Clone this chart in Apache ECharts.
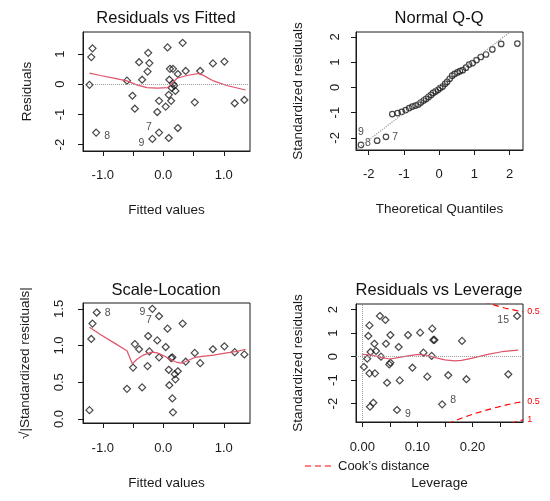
<!DOCTYPE html>
<html>
<head>
<meta charset="UTF-8">
<title>lm diagnostics</title>
<script src="https://cdn.jsdelivr.net/npm/echarts@6.0.0/dist/echarts.min.js"></script>
</head>
<body style="margin:0;background:#fff;">
<div id="main" style="width:550px;height:501px;"></div>
<script>
// ---- Residuals vs Fitted ----
var rvfX = [-1.22, -1.19, -1.17, -1.11, -0.60, -0.51, -0.47, -0.40, -0.35, -0.26, -0.25, -0.23, -0.18,
            -0.10, -0.07, -0.07, 0.04, 0.07, 0.09, 0.11, 0.16, 0.10, 0.16, 0.18, 0.20, 0.09, 0.13,
            0.14, 0.24, 0.24, 0.32, 0.37, 0.52, 0.61, 0.82, 1.01, 1.18, 1.34];
var rvfY = [-0.02, 0.90, 1.19, -1.60, 0.12, -0.38, -0.81, 0.73, 0.15, 0.42, 1.04, 0.70, -1.81,
            -0.92, -0.55, -1.60, -0.74, 1.22, -1.78, 0.51, 0.51, 0.15, 0.02, -0.05, -0.22, -0.35, -0.55,
            -0.12, 0.34, -1.45, 1.37, 0.44, -0.60, 0.44, 0.69, 0.75, -0.63, -0.52];
var rvfLabels = {3: '8', 12: '9', 15: '7'};
var rvfSmoothX = [-1.22, -1.04, -0.82, -0.60, -0.44, -0.27, -0.10, 0.07, 0.14, 0.23, 0.39, 0.60, 0.83, 1.05, 1.36];
var rvfSmoothY = [0.37, 0.29, 0.20, 0.11, -0.02, -0.11, -0.13, -0.11, 0.03, 0.20, 0.29, 0.36, 0.11, -0.04, -0.19];

// ---- Normal Q-Q ----
var qqX = [-2.22, -1.76, -1.51, -1.33, -1.18, -1.06, -0.95, -0.85, -0.76, -0.67, -0.59, -0.52, -0.44,
           -0.37, -0.30, -0.23, -0.17, -0.10, -0.03, 0.03, 0.10, 0.17, 0.23, 0.30, 0.37, 0.44, 0.52,
           0.59, 0.67, 0.76, 0.85, 0.95, 1.06, 1.18, 1.33, 1.51, 1.76, 2.22];
var qqY = [-2.28, -2.11, -1.96, -1.06, -1.02, -0.97, -0.90, -0.82, -0.76, -0.72, -0.68, -0.60, -0.52,
           -0.46, -0.38, -0.30, -0.22, -0.16, -0.10, -0.03, 0.03, 0.14, 0.22, 0.34, 0.46, 0.53, 0.59,
           0.64, 0.68, 0.78, 0.90, 0.96, 1.08, 1.20, 1.30, 1.50, 1.72, 1.73];
var qqLabels = {0: '9', 1: '8', 2: '7'};
var qqRef = [[-2.38, -2.49], [2.38, 2.58]];

// ---- Scale-Location ----
var slX = [-1.22, -1.19, -1.17, -1.10, -0.60, -0.50, -0.47, -0.40, -0.35, -0.26, -0.25, -0.23, -0.18,
           -0.10, -0.07, -0.07, 0.04, 0.07, 0.09, 0.10, 0.13, 0.15, 0.15, 0.16, 0.19, 0.20, 0.24,
           0.32, 0.37, 0.52, 0.61, 0.82, 1.01, 1.18, 1.34];
var slY = [0.12, 1.09, 1.30, 1.45, 0.41, 0.70, 1.02, 0.95, 0.43, 0.72, 1.13, 0.92, 1.50,
           1.07, 1.40, 0.84, 0.98, 1.23, 0.67, 0.46, 0.83, 0.84, 0.28, 0.09, 0.61, 0.54, 0.65,
           1.30, 0.78, 0.90, 0.76, 0.95, 0.99, 0.91, 0.88];
var slLabels = {3: '8', 12: '9', 14: '7'};
var slSmoothX = [-1.22, -1.04, -0.82, -0.60, -0.51, -0.44, -0.33, -0.19, -0.10, 0.01, 0.12, 0.23, 0.31,
                 0.39, 0.53, 0.61, 0.83, 1.05, 1.22, 1.36];
var slSmoothY = [1.25, 1.15, 1.04, 0.93, 0.75, 0.81, 0.87, 0.91, 0.90, 0.86, 0.81, 0.77, 0.76,
                 0.79, 0.84, 0.85, 0.87, 0.90, 0.92, 0.95];

// ---- Residuals vs Leverage ----
var levX = [0.281, 0.003, 0.009, 0.011, 0.013, 0.013, 0.015, 0.014, 0.020, 0.022, 0.023, 0.025, 0.032,
            0.034, 0.042, 0.043, 0.045, 0.049, 0.051, 0.051, 0.063, 0.066, 0.068, 0.083, 0.091, 0.105,
            0.111, 0.118, 0.126, 0.127, 0.129, 0.131, 0.145, 0.156, 0.181, 0.189, 0.265];
var levY = [1.73, -0.44, -0.09, 0.88, 1.33, -0.71, 0.20, -2.13, -1.96, 0.55, -0.71, 0.24, 1.73,
            0.00, 1.56, 0.55, -1.11, -0.33, 0.92, -0.26, -2.27, 0.41, -1.01, 0.92, -0.47, 1.02,
            0.17, -0.85, 0.03, 1.19, 0.71, 0.71, -2.03, -0.79, 0.67, -0.96, -0.75];
var levLabels = {0: '15', 20: '9', 32: '8'};
var levSmoothX = [0.000, 0.017, 0.035, 0.050, 0.065, 0.083, 0.102, 0.117, 0.132, 0.150, 0.168, 0.180,
                  0.198, 0.228, 0.253, 0.283];
var levSmoothY = [0.10, 0.07, -0.04, -0.10, -0.04, 0.03, 0.10, 0.06, -0.04, -0.14, -0.18, -0.16,
                  -0.07, 0.10, 0.21, 0.28];
var cookUpper05 = [[0.22, 2.33], [0.234, 2.24], [0.25, 2.12], [0.26, 2.06], [0.27, 2.01], [0.28, 1.96], [0.292, 1.91]];
var cookLower05 = [[0.155, -2.86], [0.165, -2.76], [0.18, -2.62], [0.20, -2.45], [0.22, -2.31],
                   [0.24, -2.18], [0.26, -2.06], [0.28, -1.96], [0.292, -1.91]];
var cookLower1 = [[0.27, -2.85], [0.28, -2.76], [0.292, -2.69]];

var ink = '#1a1a1a';
var smoothRed = '#DF536B';
var font = 'Liberation Sans, Arial, sans-serif';

function zip(xs, ys) {
  return xs.map(function (x, i) { return [x, ys[i]]; });
}

function pointData(xs, ys, labels, labelStyle) {
  return xs.map(function (x, i) {
    var item = {value: [x, ys[i]]};
    var t = labels[i];
    if (t) {
      var st = labelStyle[t] || {};
      item.label = {
        show: true, formatter: t, position: st.position || 'right',
        offset: st.offset || [0, 0], distance: 3,
        fontSize: 10.5, color: '#222', fontFamily: font
      };
    }
    return item;
  });
}

function axis(gi, min, max, ticks, labels, dec, name, gap, margin, isY) {
  return {
    type: 'value', gridIndex: gi, min: min, max: max,
    axisLine: {show: true, onZero: false, lineStyle: {color: ink, width: 1}},
    axisTick: {show: true, length: 5, customValues: ticks, lineStyle: {color: ink, width: 1}},
    axisLabel: {
      customValues: labels, fontSize: 13, color: ink, fontFamily: font, margin: margin,
      rotate: isY ? 90 : 0,
      formatter: function (v) { return v.toFixed(dec); }
    },
    splitLine: {show: false},
    name: name, nameLocation: 'middle', nameGap: gap, nameRotate: isY ? 90 : 0,
    nameTextStyle: {fontSize: 13.5, color: ink, fontFamily: font}
  };
}

function pts(gi, data, size, symbol) {
  return {
    type: 'scatter', xAxisIndex: gi, yAxisIndex: gi, data: data,
    symbol: symbol, symbolSize: size, silent: true,
    itemStyle: {color: 'rgba(0,0,0,0)', borderColor: ink, borderWidth: 1.2}
  };
}

function curve(gi, data, color, type, endLabel) {
  var s = {
    type: 'line', xAxisIndex: gi, yAxisIndex: gi, data: data, showSymbol: false,
    symbol: 'none', silent: true, clip: true,
    lineStyle: {color: color, width: 1.2, type: type}
  };
  if (endLabel) {
    s.endLabel = {show: true, formatter: endLabel, fontSize: 9, color: '#ff0000', fontFamily: font, distance: 4};
  }
  return s;
}

var dotted = {type: 'dotted', color: '#9a9a9a', width: 1};
var diamond = 'path://M0,-1L1,0L0,1L-1,0Z';

var chart = echarts.init(document.getElementById('main'), null, {renderer: 'canvas'});

var option = {
  animation: false,
  backgroundColor: '#fff',
  title: [
    {text: 'Residuals vs Fitted', left: 166, top: 10, textAlign: 'center'},
    {text: 'Normal Q-Q', left: 439, top: 10, textAlign: 'center'},
    {text: 'Scale-Location', left: 166, top: 282, textAlign: 'center'},
    {text: 'Residuals vs Leverage', left: 439, top: 282, textAlign: 'center'}
  ].map(function (t) {
    t.textStyle = {fontSize: 16.5, fontWeight: 'normal', color: '#111', fontFamily: font};
    t.padding = 0;
    return t;
  }),
  grid: [
    {left: 83, top: 32, width: 167, height: 119},
    {left: 356, top: 32, width: 167, height: 118},
    {left: 83, top: 303, width: 167, height: 120},
    {left: 356, top: 304, width: 167, height: 118}
  ].map(function (g) {
    g.show = true; g.borderColor = ink; g.borderWidth = 1; g.containLabel = false;
    return g;
  }),
  xAxis: [
    axis(0, -1.327, 1.433, [-1, -0.5, 0, 0.5, 1], [-1, 0, 1], 1, 'Fitted values', 52, 18, false),
    axis(1, -2.36, 2.38, [-2, -1, 0, 1, 2], [-2, -1, 0, 1, 2], 0, 'Theoretical Quantiles', 52, 18, false),
    axis(2, -1.327, 1.433, [-1, -0.5, 0, 0.5, 1], [-1, 0, 1], 1, 'Fitted values', 53, 19, false),
    axis(3, -0.0114, 0.2917, [0, 0.05, 0.1, 0.15, 0.2, 0.25], [0, 0.1, 0.2], 2, 'Leverage', 54, 19, false)
  ],
  yAxis: [
    axis(0, -2.21, 1.73, [-2, -1, 0, 1], [-2, -1, 0, 1], 0, 'Residuals', 49, 16, true),
    axis(1, -2.48, 2.19, [-2, -1, 0, 1, 2], [-2, -1, 0, 1, 2], 0, 'Standardized residuals', 51, 14, true),
    axis(2, -0.055, 1.58, [0, 0.5, 1, 1.5], [0, 0.5, 1, 1.5], 1, '\u221A|Standardized residuals|', 51, 17, true),
    axis(3, -2.78, 2.24, [-2, -1, 0, 1, 2], [-2, -1, 0, 1, 2], 0, 'Standardized residuals', 51, 16, true)
  ],
  series: [
    (function () {
      var s = pts(0, pointData(rvfX, rvfY, rvfLabels, {
        '8': {position: 'right', offset: [1, 4]},
        '9': {position: 'left', offset: [-1, 4]},
        '7': {position: 'left', offset: [0, -5]}
      }), 7, diamond);
      s.markLine = {silent: true, symbol: ['none', 'none'], label: {show: false}, lineStyle: dotted,
                    data: [{yAxis: 0}]};
      return s;
    })(),
    curve(0, zip(rvfSmoothX, rvfSmoothY), smoothRed, 'solid'),

    curve(1, qqRef, '#9a9a9a', 'dotted'),
    pts(1, pointData(qqX, qqY, qqLabels, {
      '9': {position: 'top', offset: [0, -1]},
      '8': {position: 'left', offset: [0, 2]},
      '7': {position: 'right', offset: [0, 0]}
    }), 5.5, 'circle'),

    pts(2, pointData(slX, slY, slLabels, {
      '8': {position: 'right', offset: [1, 1]},
      '9': {position: 'left', offset: [0, 3]},
      '7': {position: 'left', offset: [0, 4]}
    }), 7, diamond),
    curve(2, zip(slSmoothX, slSmoothY), smoothRed, 'solid'),

    (function () {
      var s = pts(3, pointData(levX, levY, levLabels, {
        '15': {position: 'left', offset: [-1, 4]},
        '9': {position: 'right', offset: [1, 4]},
        '8': {position: 'right', offset: [1, -4]}
      }), 7, diamond);
      s.markLine = {silent: true, symbol: ['none', 'none'], label: {show: false}, lineStyle: dotted,
                    data: [{yAxis: 0}, {xAxis: 0}]};
      return s;
    })(),
    curve(3, zip(levSmoothX, levSmoothY), smoothRed, 'solid'),
    curve(3, cookUpper05, '#ff0000', [6, 4], '0.5'),
    curve(3, cookLower05, '#ff0000', [6, 4], '0.5'),
    curve(3, cookLower1, '#ff0000', [6, 4], '1')
  ],
  graphic: [
    {type: 'line', shape: {x1: 305, y1: 466, x2: 335, y2: 466}, silent: true,
     style: {stroke: '#ff0000', lineWidth: 1, lineDash: [6, 4]}},
    {type: 'text', x: 338, y: 466, silent: true,
     style: {text: 'Cook\u2019s distance', fill: ink, font: '13px ' + font, textVerticalAlign: 'middle'}}
  ]
};

chart.setOption(option);
</script>
</body>
</html>
